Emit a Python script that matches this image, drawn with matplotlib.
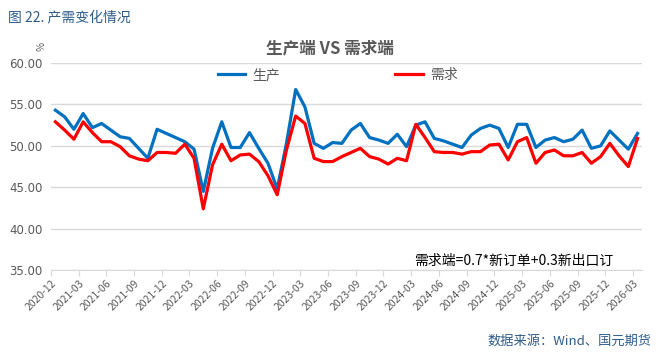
import matplotlib
matplotlib.use("Agg")
import matplotlib.pyplot as plt
import pandas as pd

plt.rcParams['font.family'] = ['Noto Sans CJK SC', 'DejaVu Sans']

# ====================== ДАННЫЕ ======================
months = pd.period_range("2020-12", "2026-03", freq="M").strftime("%Y-%m").tolist()

supply = [54.3, 53.5, 52.0, 53.9, 52.2, 52.7, 51.9, 51.1, 50.9, 49.7,
          48.5, 52.0, 51.5, 51.0, 50.5, 49.6, 44.5, 49.7, 52.9, 49.8,
          49.8, 51.6, 49.7, 47.9, 44.8, 50.3, 56.8, 54.7, 50.3, 49.7,
          50.4, 50.3, 51.9, 52.7, 51.0, 50.7, 50.3, 51.4, 49.9, 52.5,
          52.9, 50.9, 50.6, 50.2, 49.8, 51.3, 52.1, 52.5, 52.1, 49.8,
          52.6, 52.6, 49.8, 50.7, 51.0, 50.5, 50.8, 51.9, 49.7, 50.0,
          51.8, 50.7, 49.6, 51.5]

demand = [52.9, 51.9, 50.8, 52.9, 51.6, 50.5, 50.5, 49.9, 48.8, 48.4,
          48.2, 49.2, 49.2, 49.1, 50.2, 48.5, 42.4, 47.7, 50.2, 48.2,
          48.9, 49.0, 48.1, 46.4, 44.1, 49.5, 53.6, 52.7, 48.5, 48.1,
          48.1, 48.7, 49.2, 49.7, 48.7, 48.4, 47.8, 48.5, 48.2, 52.6,
          51.0, 49.3, 49.2, 49.2, 49.0, 49.3, 49.3, 50.1, 50.2, 48.3,
          50.5, 51.0, 47.9, 49.2, 49.5, 48.8, 48.8, 49.2, 47.9, 48.7,
          50.3, 48.8, 47.5, 50.9]

y_ticks = [35, 40, 45, 50, 55, 60]

# ====================== ГРАФИК ======================
fig = plt.figure(figsize=(6.6, 3.54), dpi=100)
ax = fig.add_axes([0.077, 0.237, 0.896, 0.585])

x = list(range(len(months)))
ax.plot(x, supply, color='#0070C0', lw=2.3, label='生产', solid_joinstyle='round')
ax.plot(x, demand, color='#FF0000', lw=2.3, label='需求', solid_joinstyle='round')

ax.set_ylim(35, 60)
ax.set_yticks(y_ticks)
ax.set_yticklabels([f"{v:.2f}" for v in y_ticks], fontsize=8.5, color='#595959',
                   family=['DejaVu Sans'])
ax.set_xlim(-0.5, len(months) - 0.5)

tick_pos = [i - 0.5 for i in range(0, len(months), 3)]
ax.set_xticks(tick_pos)
ax.set_xticklabels(months[::3], rotation=45, ha='right', rotation_mode='anchor',
                   fontsize=7.5, color='#595959')
ax.tick_params(axis='x', length=4, color='#d9d9d9', pad=2)
ax.tick_params(axis='y', length=0, pad=6)

ax.grid(axis='y', color='#d9d9d9', lw=1)
ax.set_axisbelow(True)
for s in ['top', 'right', 'left']:
    ax.spines[s].set_visible(False)
ax.spines['bottom'].set_color('#d9d9d9')

fig.text(0.012, 0.972, '图 22. 产需变化情况', fontsize=10, color='#2e5c8a', va='top')
fig.text(0.5, 0.862, '生产端 VS 需求端', fontsize=12, fontweight='bold',
         color='#595959', ha='center', va='center')
fig.text(0.057, 0.868, '%', fontsize=7, color='#595959', ha='center', va='center',
         rotation=-90)

leg = ax.legend(loc='upper center', bbox_to_anchor=(0.485, 1.035), ncol=2,
                frameon=False, fontsize=10, columnspacing=8.3, handlelength=2.0,
                handletextpad=0.5)
for t in leg.get_texts():
    t.set_color('#595959')

fig.text(0.628, 0.262, '需求端=0.7*新订单+0.3新出口订', fontsize=10, color='black',
         va='center')
fig.text(0.988, 0.035, '数据来源：Wind、国元期货', fontsize=9.5, color='#2e5c8a',
         ha='right', va='center')

fig.savefig('out.png', dpi=100, facecolor='white')
